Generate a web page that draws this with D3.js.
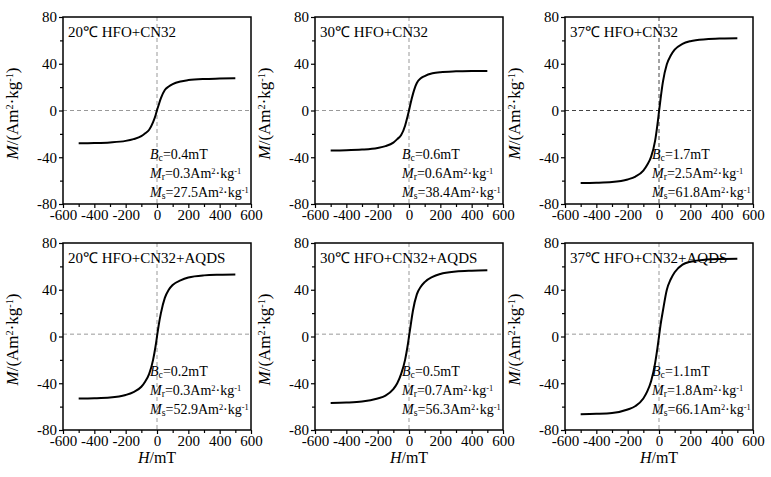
<!DOCTYPE html>
<html>
<head>
<meta charset="UTF-8">
<style>
  body { margin: 0; background: #fff; }
  svg { display: block; font-family: "Liberation Serif", "Times New Roman", serif; }
  .tick text { font-family: "Liberation Serif", "Times New Roman", serif; font-size: 15px; fill: #000; }
  .tick line { stroke: #000; stroke-width: 1.2px; }
  .frame { fill: none; stroke: #000; stroke-width: 1.5px; }
  .curve { fill: none; stroke: #000; stroke-width: 2px; }
  .ref { stroke: #999; stroke-width: 1px; stroke-dasharray: 4,3; }
</style>
</head>
<body>
<svg width="771" height="477"></svg>
<script src="https://d3js.org/d3.v7.min.js"></script>
<script>
const H = [-500, -400, -300, -200, -150, -100, -75, -50, -25, -10, 0, 10, 25, 50, 75, 100, 150, 200, 300, 400, 500];

const M20 = [-28, -27.8, -27.3, -26, -24.5, -22, -19.5, -16.5, -10, -4.5, 0.3, 4.5, 10.5, 17.5, 20.5, 22.5, 24.8, 26, 27, 27.3, 27.5];
const M30 = [-34.2, -34, -33.4, -32, -30.5, -27.5, -24.5, -21, -13, -5.5, 0, 6, 14, 23.5, 27.5, 29.5, 31.8, 32.8, 33.5, 33.8, 33.9];
const M37 = [-62, -61.8, -61.2, -59, -56.5, -51.5, -46.5, -39.5, -26, -12, -1, 10, 24.5, 39.5, 47, 52, 57, 59.3, 61, 61.6, 61.8];
const M20A = [-53, -52.8, -52.2, -50, -47.5, -43, -38.5, -32, -20, -9, 0, 9, 20, 33, 40, 44, 48, 50.5, 52.3, 52.8, 53];
const M30A = [-56.8, -56.5, -55.7, -53, -50.5, -45, -40, -32, -20, -9, 0, 9, 22, 36, 42.5, 46.5, 51, 53.5, 55.6, 56.3, 56.6];
const M37A = [-66.5, -66.2, -65.5, -62.5, -59.5, -53, -47, -38, -23, -10, 0, 10, 22, 40, 49, 55, 61.5, 64, 65.8, 66.3, 66.5];

const series = [M20, M30, M37, M20A, M30A, M37A];
const titles = ["20℃ HFO+CN32", "30℃ HFO+CN32", "37℃ HFO+CN32",
                "20℃ HFO+CN32+AQDS", "30℃ HFO+CN32+AQDS", "37℃ HFO+CN32+AQDS"];
const Bc = ["0.4", "0.6", "1.7", "0.2", "0.5", "1.1"];
const Mr = ["0.3", "0.6", "2.5", "0.3", "0.7", "1.8"];
const Ms = ["27.5", "38.4", "61.8", "52.9", "56.3", "66.1"];

const xTicks = [-600, -400, -200, 0, 200, 400, 600];
const xMinor = [-500, -300, -100, 100, 300, 500];
const yTicks = [-80, -40, 0, 40, 80];
const yMinor = [-60, -20, 20, 60];
const zeroLine = [0, 0, 0, 2, 2, 2];

const svg = d3.select("svg");
const colX = [63, 315, 565];
const rowY = [17, 243];
const w = 188, h = 187;

// text with italic / sub / sup pieces
function rich(sel, parts) {
    parts.forEach(p => {
        const t = sel.append("tspan").text(p.t);
        if (p.i) t.attr("font-style", "italic");
        if (p.sub) t.attr("baseline-shift", "-15%").attr("font-size", "0.7em");
        if (p.sup) t.attr("baseline-shift", "super").attr("font-size", "0.6em");
    });
}

series.forEach((M, i) => {
    const row = Math.floor(i / 3), col = i % 3;
    const left = colX[col], top = rowY[row];

    const x = d3.scaleLinear().domain([-600, 600]).range([left, left + w]);
    const y = d3.scaleLinear().domain([-80, 80]).range([top + h, top]);

    const g = svg.append("g");

    // dashed reference lines
    g.append("line").attr("class", "ref")
        .attr("x1", x(0)).attr("x2", x(0)).attr("y1", top).attr("y2", top + h)
        .style("stroke", i === 2 ? "#444" : null);
    g.append("line").attr("class", "ref")
        .attr("x1", left).attr("x2", left + w)
        .attr("y1", y(zeroLine[i])).attr("y2", y(zeroLine[i]))
        .style("stroke", i === 2 ? "#444" : null);

    // axes
    const strip = a => a.attr("font-family", null).attr("font-size", null).select(".domain").remove();
    g.append("g").attr("transform", `translate(0,${top + h})`)
        .call(d3.axisBottom(x).tickValues(xTicks).tickSize(4).tickPadding(1).tickFormat(d => String(d)))
        .call(strip);
    g.append("g").attr("transform", `translate(0,${top + h})`)
        .call(d3.axisBottom(x).tickValues(xMinor).tickSize(3).tickFormat(""))
        .call(strip);
    g.append("g").attr("transform", `translate(${left},0)`)
        .call(d3.axisLeft(y).tickValues(yTicks).tickSize(4).tickPadding(2).tickFormat(d => String(d)))
        .call(strip);
    g.append("g").attr("transform", `translate(${left},0)`)
        .call(d3.axisLeft(y).tickValues(yMinor).tickSize(3).tickFormat(""))
        .call(strip);

    // curve
    const line = d3.line().x((d, k) => x(H[k])).y(d => y(d)).curve(d3.curveMonotoneX);
    g.append("path").attr("class", "curve").attr("d", line(M));

    g.append("rect").attr("class", "frame")
        .attr("x", left).attr("y", top).attr("width", w).attr("height", h);

    // title
    g.append("text").attr("x", left + 5).attr("y", top + 20)
        .attr("font-size", 15).text(titles[i]);

    // annotation
    const ax = left + 87;
    const ay = top + (row === 0 ? 142 : 133);
    rich(g.append("text").attr("x", ax).attr("y", ay).attr("font-size", 14),
        [{t: "B", i: true}, {t: "c", sub: true}, {t: "=" + Bc[i] + "mT"}]);
    rich(g.append("text").attr("x", ax).attr("y", ay + 19).attr("font-size", 14),
        [{t: "M", i: true}, {t: "r", sub: true}, {t: "=" + Mr[i] + "Am"}, {t: "2", sup: true}, {t: "·kg"}, {t: "-1", sup: true}]);
    rich(g.append("text").attr("x", ax).attr("y", ay + 38).attr("font-size", 14),
        [{t: "M", i: true}, {t: "s", sub: true}, {t: "=" + Ms[i] + "Am"}, {t: "2", sup: true}, {t: "·kg"}, {t: "-1", sup: true}]);

    // y label
    rich(g.append("text")
        .attr("transform", `translate(${left - 45},${top + h / 2 + 3}) rotate(-90)`)
        .attr("text-anchor", "middle").attr("font-size", 17),
        [{t: "M", i: true}, {t: "/(Am"}, {t: "2", sup: true}, {t: "·kg"}, {t: "-1", sup: true}, {t: ")"}]);

    // x label, bottom row only
    if (row === 1) {
        rich(g.append("text").attr("x", left + w / 2).attr("y", top + h + 33)
            .attr("text-anchor", "middle").attr("font-size", 16),
            [{t: "H", i: true}, {t: "/mT"}]);
    }
});
</script>
</body>
</html>
